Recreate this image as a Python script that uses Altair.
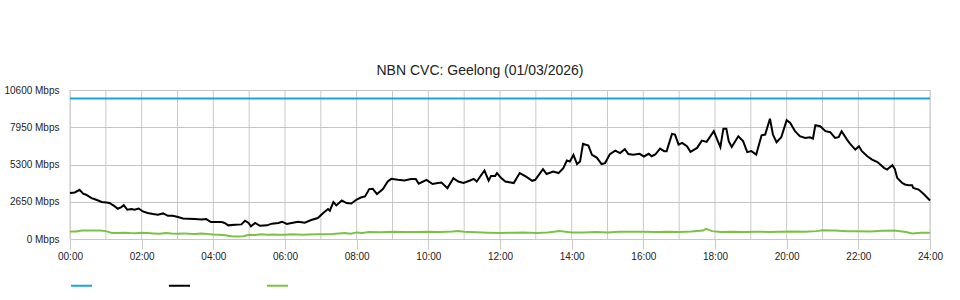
import altair as alt
import pandas as pd

title_text = "NBN CVC: Geelong (01/03/2026)"
series_names = ["Capacity", "Download", "Upload"]
series_colors = ["#1ba3e0", "#000000", "#7cc242"]
y_ticks = [0, 2650, 5300, 7950, 10600]
x_label_hours = list(range(0, 25, 2))
grid_hours = list(range(0, 25))

capacity_times = ["00:00", "24:00"]
capacity_values = [10000, 10000]

download_times = [
    "00:00", "00:08", "00:16", "00:22", "00:27", "00:36", "00:44", "00:53", "01:01", "01:06",
    "01:15", "01:20", "01:26", "01:30", "01:36", "01:43", "01:48", "01:55", "02:02", "02:10",
    "02:19", "02:27", "02:36", "02:44", "02:52", "03:01", "03:09", "03:17", "03:29", "03:40",
    "03:48", "03:56", "04:14", "04:19", "04:25", "04:36", "04:47", "04:53", "04:59", "05:03",
    "05:10", "05:18", "05:30", "05:38", "05:49", "05:55", "06:03", "06:11", "06:22", "06:33",
    "06:44", "06:55", "07:04", "07:12", "07:15", "07:21", "07:26", "07:35", "07:43", "07:51",
    "08:00", "08:07", "08:14", "08:21", "08:27", "08:34", "08:44", "08:52", "08:58", "09:09",
    "09:20", "09:31", "09:39", "09:44", "09:57", "10:07", "10:16", "10:22", "10:32", "10:42",
    "10:50", "10:59", "11:10", "11:16", "11:21", "11:34", "11:41", "11:45", "11:52", "11:55",
    "12:02", "12:09", "12:23", "12:33", "12:43", "12:54", "12:59", "13:12", "13:18", "13:29",
    "13:38", "13:46", "13:52", "13:57", "14:03", "14:09", "14:14", "14:19", "14:28", "14:34",
    "14:42", "14:50", "14:56", "15:04", "15:13", "15:21", "15:29", "15:35", "15:43", "15:54",
    "16:01", "16:09", "16:14", "16:20", "16:28", "16:35", "16:39", "16:48", "16:53", "16:59",
    "17:05", "17:13", "17:19", "17:30", "17:38", "17:46", "17:58", "18:03", "18:09", "18:14",
    "18:19", "18:23", "18:28", "18:39", "18:47", "18:54", "19:01", "19:09", "19:18", "19:24",
    "19:32", "19:37", "19:43", "19:51", "20:00", "20:06", "20:14", "20:22", "20:31", "20:39",
    "20:44", "20:48", "20:56", "21:05", "21:13", "21:21", "21:27", "21:32", "21:41", "21:46",
    "21:55", "22:01", "22:06", "22:15", "22:23", "22:32", "22:43", "22:48", "22:57", "23:01",
    "23:05", "23:13", "23:18", "23:24", "23:30", "23:32", "23:41", "23:49", "24:00",
]
download_values = [
    3270, 3310, 3500, 3220, 3150, 2910, 2790, 2630, 2600, 2560,
    2320, 2150, 2270, 2410, 2080, 2130, 2080, 2170, 1960, 1850,
    1780, 1730, 1820, 1650, 1650, 1560, 1460, 1440, 1420, 1390,
    1420, 1210, 1210, 1140, 970, 1020, 1040, 1300, 1140, 900,
    1140, 940, 970, 1090, 1140, 1230, 1070, 1140, 1230, 1160,
    1350, 1490, 1850, 2130, 2010, 2630, 2390, 2740, 2560, 2530,
    2810, 2950, 3030, 3550, 3570, 3200, 3550, 4090, 4280, 4210,
    4160, 4260, 4260, 3930, 4210, 3910, 3980, 4020, 3620, 4330,
    4090, 3980, 4160, 4280, 4090, 4870, 4160, 4490, 4490, 4690,
    4330, 4090, 3980, 4690, 4450, 4140, 4210, 4970, 4620, 4800,
    4690, 5040, 5580, 5510, 5990, 5330, 5510, 6770, 6650, 5990,
    5790, 5330, 5400, 6040, 6290, 6110, 6390, 6040, 5990, 6060,
    5870, 6060, 5890, 6010, 6430, 6250, 6250, 7480, 7430, 6720,
    6840, 6600, 6200, 6480, 7000, 6910, 7670, 7140, 6530, 7850,
    7850, 6960, 6550, 7310, 6960, 6180, 6250, 6010, 7380, 7430,
    8560, 7430, 6890, 7240, 8450, 8260, 7670, 7310, 7190, 7240,
    7140, 8090, 8020, 7670, 7600, 7190, 7240, 7670, 7070, 6790,
    6360, 6600, 6250, 5890, 5650, 5470, 5060, 4940, 5250, 4990,
    4350, 4000, 3880, 3830, 3830, 3640, 3520, 3220, 2740,
]

upload_times = [
    "00:00", "00:10", "00:20", "00:30", "00:40", "00:50", "01:00", "01:10", "01:20", "01:30",
    "01:40", "01:50", "02:00", "02:10", "02:20", "02:30", "02:40", "02:50", "03:00", "03:10",
    "03:20", "03:30", "03:40", "03:50", "04:00", "04:10", "04:20", "04:30", "04:40", "04:50",
    "05:00", "05:10", "05:20", "05:30", "05:40", "05:50", "06:00", "06:10", "06:20", "06:30",
    "06:40", "06:50", "07:00", "07:20", "07:40", "07:50", "08:00", "08:10", "08:20", "08:40",
    "09:00", "09:20", "09:40", "10:00", "10:20", "10:40", "10:50", "11:00", "11:20", "11:40",
    "12:00", "12:20", "12:40", "13:00", "13:20", "13:40", "14:00", "14:20", "14:40", "15:00",
    "15:20", "15:40", "16:00", "16:20", "16:40", "17:00", "17:20", "17:40", "17:45", "17:55",
    "18:10", "18:30", "18:50", "19:10", "19:30", "19:50", "20:10", "20:30", "20:50", "21:00",
    "21:20", "21:40", "22:00", "22:20", "22:40", "23:00", "23:20", "23:30", "23:45", "24:00",
]
upload_values = [
    540, 540, 600, 611, 611, 611, 560, 430, 420, 450,
    420, 410, 440, 420, 400, 380, 420, 390, 380, 400,
    370, 360, 390, 350, 320, 300, 260, 190, 180, 200,
    300, 280, 330, 310, 320, 300, 300, 330, 320, 300,
    320, 330, 340, 360, 430, 380, 470, 420, 500, 480,
    510, 490, 500, 520, 500, 540, 570, 520, 480, 450,
    430, 440, 470, 430, 460, 560, 460, 470, 500, 470,
    520, 520, 520, 500, 520, 500, 530, 600, 720, 560,
    500, 520, 500, 520, 500, 520, 540, 520, 560, 620,
    600, 560, 560, 540, 580, 600, 500, 400, 440, 440,
]


def to_hours(t):
    h, m = t.split(":")
    return int(h) + int(m) / 60.0


rows = []
for name, ts, vs in [
    ("Capacity", capacity_times, capacity_values),
    ("Upload", upload_times, upload_values),
    ("Download", download_times, download_values),
]:
    for t, v in zip(ts, vs):
        rows.append({"series": name, "hour": to_hours(t), "mbps": v})
df = pd.DataFrame(rows)

FONT = "Liberation Sans"
W, H = 860, 149
x_scale = alt.Scale(domain=[0, 24], nice=False, zero=False)
y_scale = alt.Scale(domain=[0, 10600], nice=False)

x_axis = alt.Axis(
    values=x_label_hours,
    labelExpr="(datum.value < 10 ? '0' : '') + datum.value + ':00'",
    grid=False,
    title=None,
    tickSize=10,
    tickColor="#c8c8c8",
    domainColor="#c8c8c8",
    labelPadding=2,
    labelFont=FONT,
    labelFontSize=10,
    labelColor="#222222",
    labelFlush=False,
    labelOverlap=False,
)

grid = alt.Chart(pd.DataFrame({"hour": grid_hours})).mark_rule(
    color="#c8c8c8", strokeWidth=1
).encode(
    x=alt.X("hour:Q", scale=x_scale, axis=x_axis),
    y=alt.value(0),
    y2=alt.value(H),
)

lines = alt.Chart(df).mark_line(strokeWidth=2).encode(
    x=alt.X("hour:Q", scale=x_scale, axis=x_axis),
    y=alt.Y(
        "mbps:Q",
        scale=y_scale,
        axis=alt.Axis(
            values=y_ticks,
            labelExpr="format(datum.value, 'd') + ' Mbps'",
            grid=True,
            gridColor="#c4c4c4",
            ticks=False,
            domain=False,
            title=None,
            labelPadding=11,
            labelFont=FONT,
            labelFontSize=10,
            labelColor="#222222",
        ),
    ),
    color=alt.Color(
        "series:N",
        scale=alt.Scale(domain=series_names, range=series_colors),
        legend=alt.Legend(
            orient="none",
            legendX=0,
            legendY=184,
            direction="horizontal",
            title=None,
            symbolType="stroke",
            symbolSize=441,
            symbolStrokeWidth=2,
            labelExpr="''",
            labelOffset=0,
            columnPadding=69,
            padding=0,
        ),
    ),
    detail="series:N",
)

chart = alt.layer(grid, lines).properties(
    width=W,
    height=H,
    autosize="none",
    padding={"left": 70, "top": 90, "right": 30, "bottom": 61},
    title=alt.TitleParams(
        text=title_text,
        font=FONT,
        fontSize=14,
        fontWeight="normal",
        color="#222222",
        anchor="middle",
        dx=-20,
        offset=7,
    ),
).configure_view(stroke=None).configure(background="white")

chart.save("out.html", embed_options={"renderer": "svg", "actions": False})
